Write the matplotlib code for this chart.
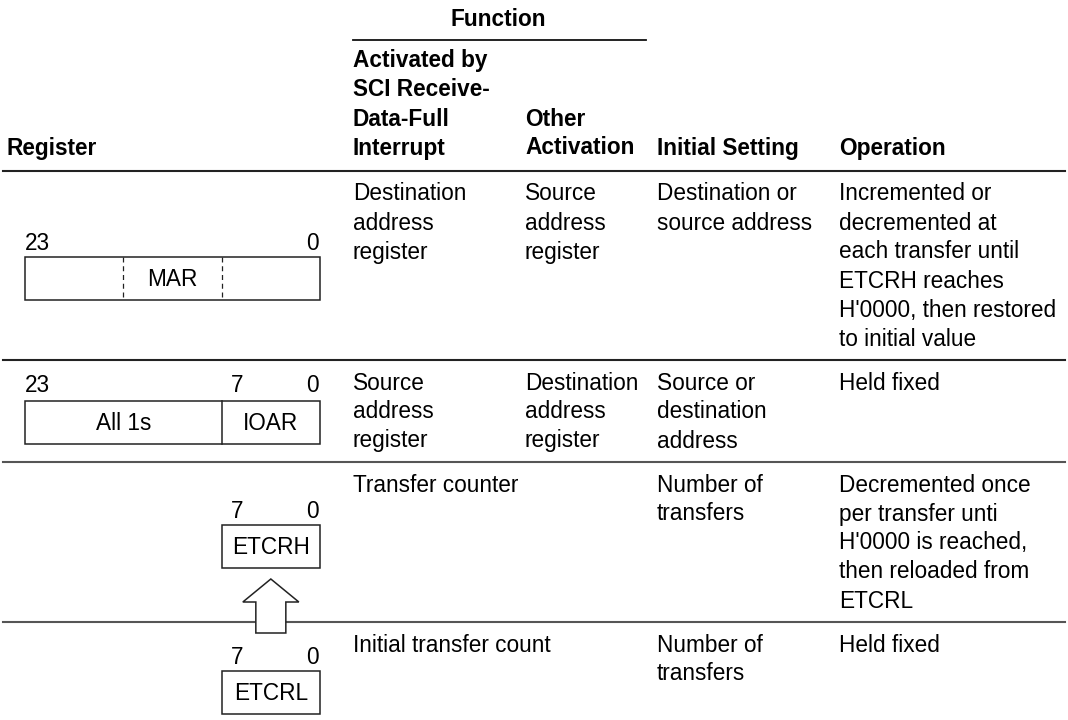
"""
Register function table (DTC / SCI receive-data-full transfer), redrawn with matplotlib.
"""

import matplotlib.pyplot as plt
from matplotlib.patches import Rectangle, Polygon

plt.rcParams["font.family"] = ["Liberation Sans", "DejaVu Sans"]

# table content
header_cols = [
    ["Activated by", "SCI Receive-", "Data-Full", "Interrupt"],
    ["Other", "Activation"],
    ["Initial Setting"],
    ["Operation"],
]
rows = [
    [
        ["Destination", "address", "register"],
        ["Source", "address", "register"],
        ["Destination or", "source address"],
        ["Incremented or", "decremented at", "each transfer until",
         "ETCRH reaches", "H'0000, then restored", "to initial value"],
    ],
    [
        ["Source", "address", "register"],
        ["Destination", "address", "register"],
        ["Source or", "destination", "address"],
        ["Held fixed"],
    ],
    [
        ["Transfer counter"],
        [],
        ["Number of", "transfers"],
        ["Decremented once", "per transfer unti", "H'0000 is reached,",
         "then reloaded from", "ETCRL"],
    ],
    [
        ["Initial transfer count"],
        [],
        ["Number of", "transfers"],
        ["Held fixed"],
    ],
]
register_names = ["MAR", "IOAR", "ETCRH", "ETCRL"]
upper_fill = "All 1s"

# layout (pixel coordinates, y downwards)
col_x = [353, 525, 657, 839]
row_lines = [171, 360, 462, 622]
step = 29
fs = 16.3

fig = plt.figure(figsize=(10.68, 7.2), dpi=100)
ax = fig.add_axes([0, 0, 1, 1])
ax.set_xlim(0, 1068)
ax.set_ylim(720, 0)
ax.axis("off")

# header
ax.text(498, 19, "Function", ha="center", va="center", fontsize=fs, fontweight="bold")
ax.plot([353, 646], [40, 40], color="#111", lw=1.3)
ax.text(7, 148, "Register", ha="left", va="center", fontsize=fs, fontweight="bold")
for x, lines in zip(col_x, header_cols):
    y0 = 148 - step * (len(lines) - 1)
    for i, s in enumerate(lines):
        ax.text(x, y0 + i * step, s, ha="left", va="center", fontsize=fs, fontweight="bold")

# row separators
for k, y in enumerate(row_lines):
    ax.plot([3, 1065], [y, y], color="#222" if k < 2 else "#555", lw=1.5, zorder=1)

# row text
for y, row in zip(row_lines, rows):
    for x, lines in zip(col_x, row):
        for i, s in enumerate(lines):
            ax.text(x, y + 23 + i * step, s, ha="left", va="center", fontsize=fs)

# register drawings
bx0, bx1 = 25, 320
third = (bx1 - bx0) / 3
d1, d2 = bx0 + third, bx0 + 2 * third
bh = 43
ekw = dict(facecolor="white", edgecolor="#222", lw=1.1)

# MAR
top = 257
ax.text(bx0, 243, "23", ha="left", va="center", fontsize=fs)
ax.text(bx1 - 1, 243, "0", ha="right", va="center", fontsize=fs)
ax.add_patch(Rectangle((bx0, top), bx1 - bx0, bh, **ekw))
for dx in (d1, d2):
    ax.plot([dx, dx], [top, top + bh], color="#222", lw=0.9, ls=(0, (4, 3)))
ax.text((bx0 + bx1) / 2, top + bh / 2 + 1, register_names[0], ha="center", va="center", fontsize=fs)

# IOAR
top = 401
ax.text(bx0, 386, "23", ha="left", va="center", fontsize=fs)
ax.text(d2 + 9, 386, "7", ha="left", va="center", fontsize=fs)
ax.text(bx1 - 1, 386, "0", ha="right", va="center", fontsize=fs)
ax.add_patch(Rectangle((bx0, top), bx1 - bx0, bh, **ekw))
ax.plot([d2, d2], [top, top + bh], color="#222", lw=1.1)
ax.text((bx0 + d2) / 2, top + bh / 2 + 1, upper_fill, ha="center", va="center", fontsize=fs)
ax.text((d2 + bx1) / 2, top + bh / 2 + 1, register_names[1], ha="center", va="center", fontsize=fs)

# ETCRH / ETCRL
cx = (d2 + bx1) / 2
for name, lab_y, top in [(register_names[2], 512, 525), (register_names[3], 657, 671)]:
    ax.text(d2 + 9, lab_y, "7", ha="left", va="center", fontsize=fs)
    ax.text(bx1 - 1, lab_y, "0", ha="right", va="center", fontsize=fs)
    ax.add_patch(Rectangle((d2, top), bx1 - d2, bh, **ekw))
    ax.text(cx, top + bh / 2 + 1, name, ha="center", va="center", fontsize=fs)

# hollow up arrow from ETCRL to ETCRH
arrow = [(cx, 579), (cx + 28, 602), (cx + 15, 602), (cx + 15, 633),
         (cx - 15, 633), (cx - 15, 602), (cx - 28, 602)]
ax.add_patch(Polygon(arrow, closed=True, facecolor="white", edgecolor="#222", lw=1.1, zorder=3))

fig.savefig("out.png", dpi=100)
